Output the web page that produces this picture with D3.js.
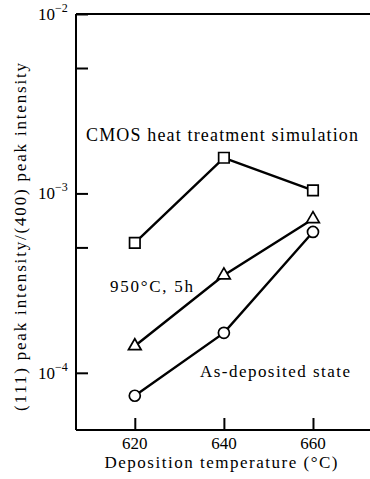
<!DOCTYPE html>
<html>
<head>
<meta charset="utf-8">
<script src="https://cdn.jsdelivr.net/npm/d3@7"></script>
<style>
  body { margin: 0; background: #fff; }
</style>
</head>
<body>
<script>
// data
var temps = [620, 640, 660];
var cmosSim = [5.3e-4, 1.58e-3, 1.04e-3];     // squares
var annealed = [1.41e-4, 3.5e-4, 7.2e-4];     // triangles, 950C 5h
var asDeposited = [7.45e-5, 1.67e-4, 6.1e-4]; // circles
var xTicks = [620, 640, 660];
var yMajor = [1e-2, 1e-3, 1e-4];
var yMinor = [5e-3, 5e-4];

var W = 370, H = 479;
var FONT = "Liberation Serif";
var svg = d3.select("body").append("svg")
    .attr("width", W)
    .attr("height", H);

var x = d3.scaleLinear().domain([606.8, 672.8]).range([76, 370]);
var y = d3.scaleLog().domain([4.8e-5, 1e-2]).range([430, 14]);

//frame: left, bottom, top (no right side)
var frame = svg.append("g").attr("stroke", "#000").attr("stroke-width", 2).attr("fill", "none");
frame.append("line").attr("x1", x.range()[0]).attr("x2", x.range()[0]).attr("y1", y.range()[1]).attr("y2", y.range()[0]);
frame.append("line").attr("x1", x.range()[0]).attr("x2", x.range()[1]).attr("y1", y.range()[0]).attr("y2", y.range()[0]);
frame.append("line").attr("x1", x.range()[0]).attr("x2", x.range()[1]).attr("y1", y.range()[1]).attr("y2", y.range()[1]);

//ticks point inward
var xAxis = d3.axisTop(x).tickValues(xTicks).tickSize(12).tickFormat("");
var gx = svg.append("g").attr("transform", "translate(0," + y.range()[0] + ")").call(xAxis);
gx.select(".domain").remove();
gx.selectAll("line").attr("stroke-width", 2);

var yAxis = d3.axisRight(y).tickValues(yMajor.concat(yMinor)).tickSize(12).tickFormat("");
var gy = svg.append("g").attr("transform", "translate(" + x.range()[0] + ",0)").call(yAxis);
gy.select(".domain").remove();
gy.selectAll("line").attr("stroke-width", 2);

function txt(sel){
    return sel.attr("font-family", FONT).attr("fill", "#000");
}

//x tick labels
txt(svg.append("g").selectAll("text")
    .data(xTicks)
    .enter()
    .append("text"))
    .attr("x", function(d){ return x(d); })
    .attr("y", 449)
    .attr("text-anchor", "middle")
    .attr("font-size", 17)
    .text(function(d){ return d; });

//y tick labels 10^n
var yl = txt(svg.append("g").selectAll("text")
    .data(yMajor)
    .enter()
    .append("text"))
    .attr("x", 38)
    .attr("y", function(d){ return y(d) + 6; })
    .attr("font-size", 17);
yl.append("tspan").text("10");
yl.append("tspan")
    .attr("dy", -8)
    .attr("font-size", 12)
    .text(function(d){ return "\u2212" + Math.round(-Math.log10(d)); });

//axis titles
txt(svg.append("text"))
    .attr("x", 221)
    .attr("y", 468)
    .attr("text-anchor", "middle")
    .attr("textLength", 233)
    .attr("lengthAdjust", "spacing")
    .attr("font-size", 17)
    .text("Deposition temperature (\u00B0C)");

txt(svg.append("text"))
    .attr("transform", "translate(26,237) rotate(-90)")
    .attr("text-anchor", "middle")
    .attr("textLength", 348)
    .attr("lengthAdjust", "spacing")
    .attr("font-size", 17)
    .text("(111) peak intensity/(400) peak intensity");

//series
var line = d3.line()
    .x(function(d){ return x(d[0]); })
    .y(function(d){ return y(d[1]); });

function series(vals, shape, size){
    var pts = temps.map(function(t, i){ return [t, vals[i]]; });
    svg.append("path")
        .datum(pts)
        .attr("d", line)
        .attr("fill", "none")
        .attr("stroke", "#000")
        .attr("stroke-width", 2.4);
    svg.append("g").selectAll("path")
        .data(pts)
        .enter()
        .append("path")
        .attr("transform", function(d){ return "translate(" + x(d[0]) + "," + y(d[1]) + ")"; })
        .attr("d", d3.symbol().type(shape).size(size))
        .attr("fill", "#fff")
        .attr("stroke", "#000")
        .attr("stroke-width", 1.7);
}
series(cmosSim, d3.symbolSquare, 110);
series(annealed, d3.symbolTriangle, 70);
series(asDeposited, d3.symbolCircle, 95);

//annotations
txt(svg.append("text"))
    .attr("x", 86).attr("y", 141)
    .attr("textLength", 272)
    .attr("lengthAdjust", "spacing")
    .attr("font-size", 18)
    .text("CMOS heat treatment simulation");

txt(svg.append("text"))
    .attr("x", 110).attr("y", 292)
    .attr("textLength", 83)
    .attr("lengthAdjust", "spacing")
    .attr("font-size", 17)
    .text("950\u00B0C, 5h");

txt(svg.append("text"))
    .attr("x", 200).attr("y", 377)
    .attr("textLength", 150)
    .attr("lengthAdjust", "spacing")
    .attr("font-size", 17)
    .text("As-deposited state");
</script>
</body>
</html>
